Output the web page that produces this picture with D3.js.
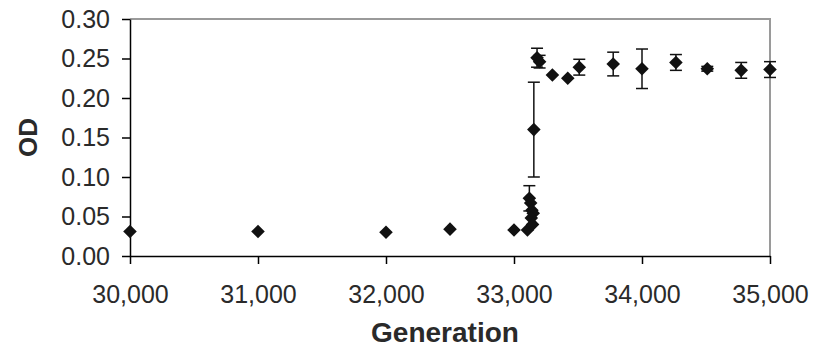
<!DOCTYPE html>
<html>
<head>
<meta charset="utf-8">
<script src="https://cdn.jsdelivr.net/npm/d3@7"></script>
<style>
  body { margin: 0; background: #fff; }
  svg { display: block; }
</style>
</head>
<body>
<script>
// generation number, mean OD and error (half-length of the bar)
const generations = [30000, 31000, 32000, 32500, 33000,
  33105, 33120, 33130, 33140, 33150, 33135, 33145,
  33155, 33180, 33200, 33300, 33420, 33510, 33775,
  34000, 34265, 34510, 34775, 35000];
const odValues = [0.031, 0.031, 0.030, 0.034, 0.033,
  0.033, 0.073, 0.067, 0.058, 0.054, 0.048, 0.040,
  0.160, 0.251, 0.246, 0.229, 0.225, 0.239, 0.243,
  0.237, 0.245, 0.237, 0.235, 0.236];
const odErrors = [0, 0, 0, 0, 0,
  0, 0.016, 0, 0, 0, 0, 0,
  0.060, 0.012, 0.008, 0, 0, 0.010, 0.015,
  0.025, 0.010, 0.003, 0.010, 0.010];
const xTicks = [30000, 31000, 32000, 33000, 34000, 35000];
const yTicks = [0, 0.05, 0.10, 0.15, 0.20, 0.25, 0.30];

const width = 814, height = 349;
const margin = {top: 19, right: 44, bottom: 93, left: 130};
const font = "'Liberation Sans', Arial, sans-serif";

const svg = d3.select("body").append("svg")
  .attr("width", width)
  .attr("height", height)
  .style("font-family", font);

const x = d3.scaleLinear()
  .domain([30000, 35000])
  .range([margin.left, width - margin.right]);

const y = d3.scaleLinear()
  .domain([0, 0.30])
  .range([height - margin.bottom, margin.top]);

// grey plot-area frame (top and right)
svg.append("path")
  .attr("d", `M${x(30000)},${y(0.30)}H${x(35000)}V${y(0)}`)
  .attr("fill", "none")
  .attr("stroke", "#9a9a9a")
  .attr("stroke-width", 2);

const xAxis = svg.append("g")
  .attr("transform", `translate(0,${y(0)})`)
  .call(d3.axisBottom(x).tickValues(xTicks).tickFormat(d3.format(",")).tickSize(8).tickSizeOuter(0));

const yAxis = svg.append("g")
  .attr("transform", `translate(${x(30000)},0)`)
  .call(d3.axisLeft(y).tickValues(yTicks).tickFormat(d3.format(".2f")).tickSize(8).tickSizeOuter(0));

[xAxis, yAxis].forEach(g => {
  g.select(".domain").attr("stroke", "#000").attr("stroke-width", 1.5);
  g.selectAll(".tick line").attr("stroke", "#000").attr("stroke-width", 1.5);
  g.selectAll(".tick text")
    .attr("fill", "#2a2a2a")
    .style("font-size", "25px")
    .style("font-family", font);
});
xAxis.selectAll(".tick text").attr("y", 29);
yAxis.selectAll(".tick text").attr("x", -20);

// axis titles
svg.append("text")
  .attr("x", (x(30000) + x(35000)) / 2 - 5)
  .attr("y", 342)
  .attr("text-anchor", "middle")
  .attr("fill", "#2a2a2a")
  .style("font-size", "28px")
  .style("font-weight", "bold")
  .text("Generation");

svg.append("text")
  .attr("transform", `translate(37,${(y(0) + y(0.30)) / 2})rotate(-90)`)
  .attr("text-anchor", "middle")
  .attr("fill", "#2a2a2a")
  .style("font-size", "26px")
  .style("font-weight", "bold")
  .text("OD");

const points = generations.map((g, i) => ({g, od: odValues[i], err: odErrors[i]}));

// error bars
const bars = svg.append("g")
  .attr("stroke", "#111")
  .attr("stroke-width", 1.5)
  .selectAll("g")
  .data(points.filter(d => d.err > 0))
  .join("g");

bars.append("line")
  .attr("x1", d => x(d.g)).attr("x2", d => x(d.g))
  .attr("y1", d => y(d.od - d.err)).attr("y2", d => y(d.od + d.err));
bars.append("line")
  .attr("x1", d => x(d.g) - 6).attr("x2", d => x(d.g) + 6)
  .attr("y1", d => y(d.od + d.err)).attr("y2", d => y(d.od + d.err));
bars.append("line")
  .attr("x1", d => x(d.g) - 6).attr("x2", d => x(d.g) + 6)
  .attr("y1", d => y(d.od - d.err)).attr("y2", d => y(d.od - d.err));

// diamond markers
const diamond = d3.symbol().type(d3.symbolSquare).size(92);
svg.append("g")
  .selectAll("path")
  .data(points)
  .join("path")
  .attr("d", diamond)
  .attr("transform", d => `translate(${x(d.g)},${y(d.od)})rotate(45)`)
  .attr("fill", "#111");
</script>
</body>
</html>
